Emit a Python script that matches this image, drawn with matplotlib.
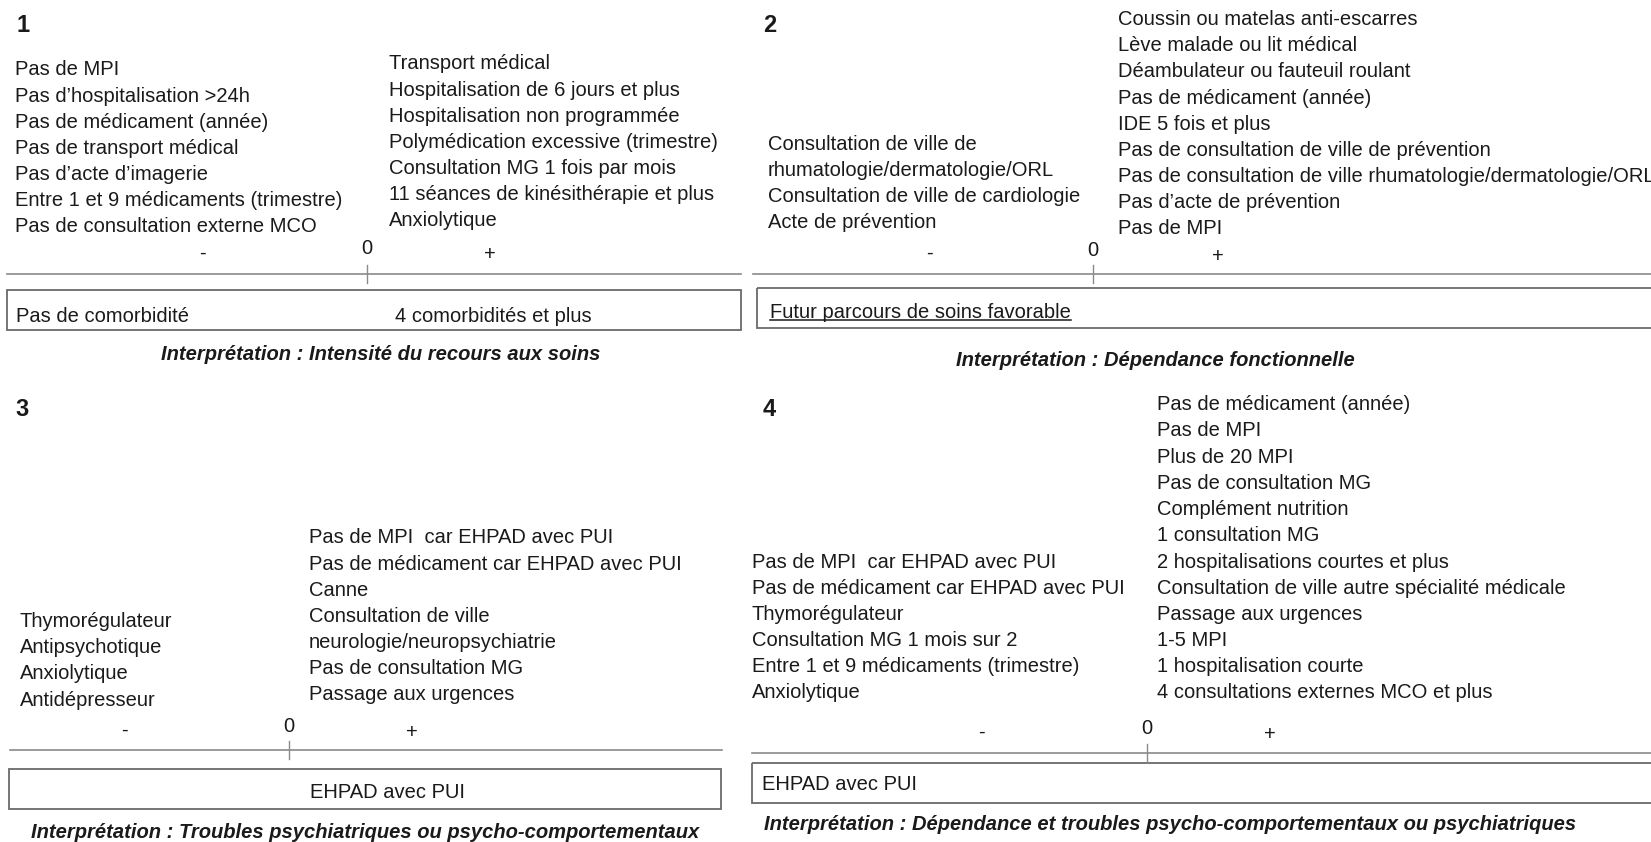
import matplotlib
matplotlib.use("Agg")
import matplotlib.pyplot as plt
from matplotlib.patches import Rectangle

plt.rcParams['font.family'] = ['Liberation Sans', 'DejaVu Sans']

# ---------------- data ----------------
p1_neg = ["Pas de MPI", "Pas d\u2019hospitalisation >24h", "Pas de médicament (année)",
          "Pas de transport médical", "Pas d\u2019acte d\u2019imagerie",
          "Entre 1 et 9 médicaments (trimestre)", "Pas de consultation externe MCO"]
p1_pos = ["Transport médical", "Hospitalisation de 6 jours et plus", "Hospitalisation non programmée",
          "Polymédication excessive (trimestre)", "Consultation MG 1 fois par mois",
          "11 séances de kinésithérapie et plus", "Anxiolytique"]
p1_box = ["Pas de comorbidité", "4 comorbidités et plus"]
p1_interp = "Interprétation : Intensité du recours aux soins"

p2_neg = ["Consultation de ville de", "rhumatologie/dermatologie/ORL",
          "Consultation de ville de cardiologie", "Acte de prévention"]
p2_pos = ["Coussin ou matelas anti-escarres", "Lève malade ou lit médical",
          "Déambulateur ou fauteuil roulant", "Pas de médicament (année)", "IDE 5 fois et plus",
          "Pas de consultation de ville de prévention",
          "Pas de consultation de ville rhumatologie/dermatologie/ORL",
          "Pas d\u2019acte de prévention", "Pas de MPI"]
p2_box = ["Futur parcours de soins favorable"]
p2_interp = "Interprétation : Dépendance fonctionnelle"

p3_neg = ["Thymorégulateur", "Antipsychotique", "Anxiolytique", "Antidépresseur"]
p3_pos = ["Pas de MPI  car EHPAD avec PUI", "Pas de médicament car EHPAD avec PUI", "Canne",
          "Consultation de ville", "neurologie/neuropsychiatrie", "Pas de consultation MG",
          "Passage aux urgences"]
p3_box = ["EHPAD avec PUI"]
p3_interp = "Interprétation : Troubles psychiatriques ou psycho-comportementaux"

p4_neg = ["Pas de MPI  car EHPAD avec PUI", "Pas de médicament car EHPAD avec PUI", "Thymorégulateur",
          "Consultation MG 1 mois sur 2", "Entre 1 et 9 médicaments (trimestre)", "Anxiolytique"]
p4_pos = ["Pas de médicament (année)", "Pas de MPI", "Plus de 20 MPI", "Pas de consultation MG",
          "Complément nutrition", "1 consultation MG", "2 hospitalisations courtes et plus",
          "Consultation de ville autre spécialité médicale", "Passage aux urgences", "1-5 MPI",
          "1 hospitalisation courte", "4 consultations externes MCO et plus"]
p4_box = ["EHPAD avec PUI"]
p4_interp = "Interprétation : Dépendance et troubles psycho-comportementaux ou psychiatriques"

axis_marks = ["-", "0", "+"]

# ---------------- layout ----------------
W, H = 1651, 842
fig = plt.figure(figsize=(W / 100, H / 100), dpi=100)
ax = fig.add_axes([0, 0, 1, 1])
ax.set_xlim(0, W)
ax.set_ylim(H, 0)
ax.axis('off')

TXT = '#1a1a1a'
FS = 14.5
SP = 26.2

panels = [
    dict(num="1", numxy=(16, 25), neg=p1_neg, negx=15, neglast=227, pos=p1_pos, posx=389, poslast=221,
         marks=[(202, 253), (367, 249), (490, 255)], axy=274, ax0=7, ax1=741,
         box=(7, 290, 741, 330), boxtexts=[(16, 316, 'left'), (395, 316, 'left')], underline=False,
         items_box=p1_box, interp=p1_interp, interpxy=(381, 355)),
    dict(num="2", numxy=(763, 25), neg=p2_neg, negx=768, neglast=223, pos=p2_pos, posx=1118, poslast=229,
         marks=[(929, 253), (1093, 250), (1218, 256)], axy=274, ax0=753, ax1=W + 5,
         box=(757, 288, W + 10, 328), boxtexts=[(770, 312, 'left')], underline=True,
         items_box=p2_box, interp=p2_interp, interpxy=(1155, 360)),
    dict(num="3", numxy=(15, 410), neg=p3_neg, negx=20, neglast=700, pos=p3_pos, posx=309, poslast=695,
         marks=[(124, 730), (289, 727), (412, 732)], axy=750, ax0=10, ax1=722,
         box=(9, 769, 721, 809), boxtexts=[(388, 793, 'center')], underline=False,
         items_box=p3_box, interp=p3_interp, interpxy=(365, 833)),
    dict(num="4", numxy=(763, 410), neg=p4_neg, negx=752, neglast=693, pos=p4_pos, posx=1157, poslast=693,
         marks=[(981, 732), (1147, 728), (1270, 734)], axy=753, ax0=752, ax1=W + 5,
         box=(752, 763, W + 10, 803), boxtexts=[(762, 785, 'left')], underline=False,
         items_box=p4_box, interp=p4_interp, interpxy=(1170, 825)),
]

underline_texts = []
for p in panels:
    ax.text(p['numxy'][0], p['numxy'][1], p['num'], fontsize=17, fontweight='bold',
            color=TXT, ha='left', va='center')
    n = len(p['neg'])
    for i, s in enumerate(p['neg']):
        ax.text(p['negx'], p['neglast'] - (n - 1 - i) * SP, s, fontsize=FS, color=TXT,
                ha='left', va='center')
    n = len(p['pos'])
    for i, s in enumerate(p['pos']):
        ax.text(p['posx'], p['poslast'] - (n - 1 - i) * SP, s, fontsize=FS, color=TXT,
                ha='left', va='center')
    for (mx, my), m in zip(p['marks'], axis_marks):
        ax.text(mx, my, m, fontsize=FS, color=TXT, ha='center', va='center')
    ax.plot([p['ax0'], p['ax1']], [p['axy'], p['axy']], color='#8a8a8a', lw=1.2, clip_on=False)
    zx = p['marks'][1][0]
    ax.plot([zx, zx], [p['axy'] - 9, p['axy'] + 9], color='#8a8a8a', lw=1.0)
    x0, y0, x1, y1 = p['box']
    ax.add_patch(Rectangle((x0, y0), x1 - x0, y1 - y0, fill=False, edgecolor='#6a6a6a', lw=1.3))
    for (tx, ty, ha), s in zip(p['boxtexts'], p['items_box']):
        t = ax.text(tx, ty, s, fontsize=FS, color=TXT, ha=ha, va='center')
        if p['underline']:
            underline_texts.append(t)
    ax.text(p['interpxy'][0], p['interpxy'][1], p['interp'], fontsize=FS, fontweight='bold',
            fontstyle='italic', color=TXT, ha='center', va='center')

fig.canvas.draw()
inv = ax.transData.inverted()
for t in underline_texts:
    bb = t.get_window_extent()
    (xa, ya), (xb, yb) = inv.transform([(bb.x0, bb.y0), (bb.x1, bb.y1)])
    yl = max(ya, yb) - 2
    ax.plot([xa, xb], [yl, yl], color=TXT, lw=1.1)

fig.savefig("out.png", dpi=100, facecolor='white')
